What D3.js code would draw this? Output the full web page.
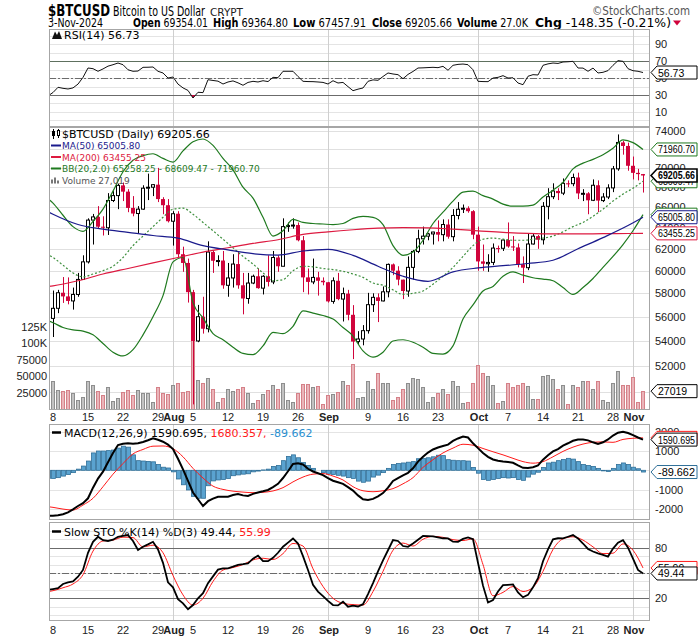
<!DOCTYPE html>
<html>
<head>
<meta charset="utf-8">
<script src="https://cdnjs.cloudflare.com/ajax/libs/d3/7.8.5/d3.min.js"></script>
<style>
  body { margin: 0; background: #fff; }
  svg { display: block; }
</style>
</head>
<body>
<script>
// $BTCUSD daily, Jul 7 - Nov 3 2024
// daily arrays start on Jul 7 (half hidden at the left edge) and end on Nov 3

const openP = [58240, 55860, 56710, 58050, 57730, 57340, 57900, 59220, 60800, 64730,
  65040, 64090, 63990, 66660, 67150, 68190, 67550, 65920, 65370, 65800,
  67900, 68000, 68260, 66800, 66190, 64620, 65350, 61500, 60700, 58100,
  54000, 56000, 55000, 61700, 60900, 60920, 58700, 59350, 60600, 58700,
  57550, 58900, 59500, 58450, 59500, 59000, 61200, 60400, 64100, 64200,
  64250, 62800, 59400, 59000, 59400, 59100, 58970, 57300, 59100, 57500,
  57970, 56160, 53950, 54160, 54840, 57020, 57650, 57340, 58130, 60570,
  60000, 59200, 58200, 60300, 61760, 62940, 63190, 63400, 63580, 63330,
  64300, 63140, 65180, 65790, 65890, 65600, 63330, 60840, 60630, 60750,
  62070, 62050, 62820, 62220, 62130, 60580, 60270, 62450, 63190, 62850,
  66080, 67040, 67620, 67400, 68400, 68360, 69000, 67370, 67380, 66680,
  68200, 66650, 67010, 67930, 69900, 72720, 72340, 70220, 69480, 69354.01];

const highP = [58400, 58240, 58300, 59430, 59400, 58500, 59800, 61400, 64900, 65330,
  66100, 65100, 67400, 67600, 68370, 68480, 67800, 67100, 66100, 68200,
  69400, 68300, 70000, 66990, 66800, 65600, 65600, 62200, 61100, 58300,
  57000, 57700, 62700, 61800, 61400, 61800, 60700, 61500, 61800, 59800,
  59800, 59650, 60200, 59600, 61400, 61800, 61400, 64900, 64500, 64900,
  64500, 63200, 60200, 61100, 59900, 59400, 59000, 59400, 59800, 58500,
  58300, 56980, 54800, 55300, 58040, 58000, 57990, 58600, 60650, 60650,
  60400, 59200, 61300, 61900, 63800, 64100, 63500, 63600, 64700, 64800,
  64800, 65800, 66500, 66260, 66080, 65700, 64100, 62400, 61500, 62500,
  62300, 62900, 64500, 63200, 62500, 61300, 63400, 63400, 63300, 66500,
  67900, 68400, 67900, 68900, 68700, 69400, 69500, 67800, 67500, 68800,
  68700, 67400, 68300, 70200, 73600, 72900, 72700, 71200, 69900, 69364.80];

const lowP = [55720, 54320, 56300, 57170, 57050, 56600, 57700, 59200, 60650, 62400,
  63900, 63250, 63300, 66500, 65800, 66600, 65500, 65100, 63450, 65750,
  66700, 67100, 66500, 65300, 64500, 62300, 61200, 59900, 57200, 49100,
  53900, 54600, 54700, 59800, 60400, 58400, 57700, 58500, 58400, 56200,
  57100, 58800, 58400, 57900, 58600, 58800, 59900, 60400, 63600, 63900,
  62700, 58100, 57900, 58800, 57800, 58700, 57200, 57100, 57400, 55600,
  55700, 52550, 53750, 53650, 54600, 56400, 55550, 57300, 57650, 59600,
  58700, 57500, 57700, 59200, 61600, 62400, 62800, 62400, 62700, 62700,
  62950, 62700, 64800, 65420, 65450, 62900, 60000, 59990, 59900, 60500,
  61640, 61800, 62100, 61800, 60300, 58900, 60050, 62400, 62000, 62400,
  64800, 66800, 66700, 67200, 68000, 68100, 66800, 66600, 65300, 66600,
  65500, 66500, 66800, 67500, 69700, 71400, 69700, 68800, 68700, 67457.91];

const closeP = [55860, 56710, 58050, 57730, 57340, 57900, 59220, 60800, 64730, 65040,
  64090, 63990, 66660, 67150, 68190, 67550, 65920, 65370, 65800, 67900,
  68000, 68260, 66800, 66190, 64620, 65350, 61500, 60700, 58100, 54000,
  56000, 55000, 61700, 60900, 60920, 58700, 59350, 60600, 58700, 57550,
  58900, 59500, 58450, 59500, 59000, 61200, 60400, 64100, 64200, 64250,
  62800, 59400, 59000, 59400, 59100, 58970, 57300, 59100, 57500, 57970,
  56160, 53950, 54160, 54840, 57020, 57650, 57340, 58130, 60570, 60000,
  59200, 58200, 60300, 61760, 62940, 63190, 63400, 63580, 63330, 64300,
  63140, 65180, 65790, 65890, 65600, 63330, 60840, 60630, 60750, 62070,
  62050, 62820, 62220, 62130, 60580, 60270, 62450, 63190, 62850, 66080,
  67040, 67620, 67400, 68400, 68360, 69000, 67370, 67380, 66680, 68200,
  66650, 67010, 67930, 69900, 72720, 72340, 70220, 69480, 69350, 69205.66];

const volumes = [17700, 42000, 29000, 27000, 29000, 25000, 13600, 18700, 42000, 37000,
  27000, 21000, 33000, 12000, 16000, 26000, 29000, 21000, 29000, 24000,
  24000, 10000, 33000, 25000, 23000, 36000, 40000, 26000, 28000, 120000,
  44000, 39000, 46500, 31000, 10000, 17000, 31000, 28000, 30000, 33000,
  25000, 8600, 13000, 22000, 29000, 37000, 30000, 40000, 14300, 11000,
  25000, 37500, 37500, 34000, 35000, 7500, 21000, 22000, 25500, 42000,
  37000, 68000, 16000, 17700, 42000, 31000, 54000, 39000, 39000, 13600,
  17700, 31000, 39000, 46500, 45000, 33000, 10000, 17700, 25000, 31000,
  22000, 42000, 35000, 8600, 10000, 40000, 67000, 54000, 50000, 37000,
  8600, 12000, 39000, 33000, 36000, 40000, 35000, 14600, 15700, 49500,
  51000, 45000, 31000, 36000, 7000, 36000, 33000, 43000, 42000, 30000,
  42000, 13600, 10600, 40000, 57000, 37000, 37000, 48000, 10600, 27019];

const rsiVals = [29, 33, 39.2, 38, 37.2, 38.5, 43, 51, 62.1, 61.3,
  58.2, 61, 64.3, 66, 68, 66, 60, 58.2, 58.5, 62.9,
  63, 63.3, 58.2, 56.2, 50.2, 51.4, 43, 38.5, 35.5, 26.5,
  33.3, 32.9, 48.2, 47.3, 46.5, 43.1, 45.5, 46.8, 44.5, 41.6,
  45, 46.3, 45.5, 47, 46, 51, 50.6, 58.2, 58.2, 58.2,
  52, 46.3, 46, 45.9, 45.5, 45, 43.1, 47, 44.3, 45,
  40, 35.2, 37, 38.4, 46.3, 48, 47.5, 52, 56.2, 55,
  54.2, 49.4, 54.5, 58, 62.1, 62.3, 62.6, 62.9, 62.5, 64.1,
  59.4, 65.3, 66.4, 66.8, 66, 60, 46.3, 46, 45.9, 50.2,
  51, 53, 50.2, 50.5, 44.3, 42.3, 52.3, 54.2, 53.8, 65.3,
  67, 68, 67.5, 69.2, 69.5, 70, 62.1, 62, 58.2, 62,
  56.2, 57, 59, 65.3, 70.8, 70, 61.3, 58.9, 58.2, 56.73];

const macdVals = [-2360, -2350, -2330, -2280, -2180, -2020, -1850, -1700, -1450, -900,
  -430, -70, 420, 900, 1310, 1380, 1400, 1370, 1400, 1470,
  1560, 1660, 1580, 1480, 1330, 1100, 600, 50, -550, -1150,
  -1500, -1850, -1600, -1470, -1370, -1370, -1370, -1280, -1230, -1300,
  -1330, -1220, -1150, -1090, -1020, -870, -700, -400, -50, 330,
  360, 300, 80, -60, -150, -250, -400, -540, -620, -700,
  -870, -1050, -1300, -1500, -1540, -1480, -1350, -1180, -900, -550,
  -400, -260, -130, 100, 450, 700, 920, 1080, 1180, 1260,
  1330, 1520, 1650, 1750, 1700, 1400, 1150, 900, 700, 560,
  500, 460, 430, 390, 250, 130, 120, 160, 250, 550,
  780, 980, 1100, 1280, 1400, 1530, 1600, 1590, 1550, 1450,
  1360, 1450, 1600, 1800, 1950, 2000, 1930, 1820, 1700, 1590.695];

const histVals = [-420, -420, -380, -300, -220, -120, 60, 220, 480, 900,
  1000, 1000, 1020, 1050, 1150, 1250, 1200, 800, 500, 480,
  460, 440, 300, 160, 120, -80, -450, -750, -1020, -1350,
  -1450, -1450, -800, -550, -500, -480, -420, -280, -240, -200,
  -180, -80, -40, 20, 60, 200, 250, 500, 720, 800,
  650, 400, 250, 100, 0, -120, -200, -220, -260, -300,
  -380, -420, -560, -620, -560, -350, -250, -120, 100, 300,
  350, 380, 420, 450, 600, 620, 650, 700, 780, 760,
  550, 520, 500, 500, 480, 150, -150, -480, -520, -480,
  -420, -380, -400, -380, -480, -520, -350, -200, -100, 150,
  380, 420, 500, 560, 620, 580, 450, 300, 250, 200,
  100, -30, -60, 100, 300, 380, 300, 160, 80, -89.662];

const pctK = [30, 31, 32, 37, 39, 40, 45.6, 53.6, 74, 87,
  93, 89, 88, 89.5, 93, 94, 95, 88, 77.3, 81.2,
  84, 87, 78, 62, 39, 33, 19, 14, 7, 12,
  20, 26, 38, 46, 54, 55.6, 55.6, 57.5, 59.7, 60.5,
  61.5, 67, 70.5, 64, 64, 68, 74, 81.2, 86, 91,
  85, 70, 53.6, 36, 28, 22.5, 17, 12, 11.6, 16,
  10, 11.2, 10.3, 13, 25, 38, 52, 65, 77, 89,
  88, 82, 81, 85, 89.5, 94, 93.8, 93.5, 92.3, 91.2,
  91, 87.1, 87, 90.5, 92.3, 90, 62, 35, 15, 18,
  28, 35.5, 36, 36.4, 27, 21.2, 24, 33, 44, 64,
  78, 90, 91.2, 91, 93, 95, 91, 85, 78.5, 75.5,
  73.4, 71.5, 69.5, 79, 86, 89, 80, 67, 53.6, 49.44];

// smoother lines, sampled every second day from Jul 6 to Nov 3
const bbUpper = [67200, 66400, 65200, 64100, 63650, 64600, 65800, 67600, 69600, 70800,
  71300, 71500, 71000, 70600, 71800, 72800, 73100, 72400, 71000, 69800,
  68000, 66900, 65000, 63200, 63700, 64800, 64500, 64400, 64350, 64300,
  64400, 64900, 65100, 65000, 64300, 62300, 61400, 61700, 62800, 64400,
  65500, 66600, 67500, 67600, 67150, 66800, 66300, 66100, 66100, 66200,
  67000, 67700, 68500, 69900, 70500, 70900, 71400, 72100, 73000, 72700, 71960.70];
const bbMiddle = [61700, 61200, 60500, 59800, 59450, 59700, 60000, 60400, 61200, 62300,
  63200, 64100, 65000, 65800, 65900, 65300, 64500, 63700, 62900, 62100,
  61300, 60600, 59800, 59100, 59200, 60000, 60400, 60350, 60200, 60100,
  59950, 59700, 59400, 58900, 58700, 58300, 57900, 58000, 58200, 58800,
  59500, 60300, 61300, 62300, 62900, 63000, 62900, 62800, 62800, 62900,
  63000, 63200, 63600, 64100, 64500, 65100, 65800, 66600, 67300, 67900, 68609.47];
const bbLower = [55800, 55500, 55100, 54900, 54800, 54500, 53800, 53100, 52800, 53300,
  54500, 56000, 57800, 60800, 61200, 57200, 55900, 54600, 54100, 53500,
  53000, 52900, 53600, 54700, 54600, 55200, 56500, 56300, 56100, 55800,
  55100, 54400, 53200, 52700, 53100, 54000, 54100, 53900, 53500, 53000,
  52950, 53600, 55800, 57000, 58200, 58600, 59500, 59900, 59600, 59370,
  59250, 59100, 58500, 57900, 58500, 59300, 60300, 61300, 62400, 63700, 65258.25];
const signalVals = [-1850, -1920, -2010, -2060, -1800, -1450, -850, -200, 350, 850,
  1080, 1250, 1260, 1120, 700, 100, -400, -820, -990, -1080,
  -1130, -1160, -1140, -1070, -900, -600, -350, -200, -170, -300,
  -500, -850, -1060, -1110, -1060, -950, -700, -380, 150, 550,
  900, 1150, 1350, 1300, 1130, 960, 800, 620, 450, 370,
  450, 700, 980, 1200, 1360, 1450, 1470, 1450, 1600, 1660, 1680.357];
const pctD = [27, 29, 32.5, 37, 48, 76, 88, 89, 92.5, 92,
  81, 83, 74, 47, 24, 12, 20, 40, 53.5, 56.5,
  60, 65.5, 67.5, 66, 73, 85, 82, 55, 34, 20,
  14, 12.5, 12, 28, 52, 77, 85.5, 82, 90, 93.5,
  92.3, 89.5, 88.5, 90.5, 60, 23, 27, 34, 28, 33,
  52, 78, 90.5, 93, 89, 81, 73, 73.5, 84.5, 77, 55.99];

// moving averages, sampled on these day offsets from Jul 8
const maDays = [-2, 0, 5, 10, 15, 20, 25, 30, 35, 40, 45, 50, 55, 60, 65,
  70, 75, 80, 85, 90, 95, 100, 105, 110, 115, 118];
const ma50 = [65800, 65300, 64300, 63850, 63550, 63250, 63000, 62300, 61900, 61550,
  61420, 61800, 61950, 61400, 60400, 59500, 59050, 59900, 60250, 60450,
  60650, 60950, 62000, 63050, 64200, 65005.80];
const ma200 = [58550, 58650, 59100, 59700, 60200, 60700, 61200, 61700, 62100, 62500,
  62850, 63350, 63600, 63800, 63950, 64000, 63980, 63850, 63700, 63550,
  63450, 63400, 63400, 63420, 63440, 63455.25];

const priceTicks = [52000, 54000, 56000, 58000, 60000, 62000, 64000, 66000, 68000, 70000, 72000, 74000];
const volumeTicks = [25000, 50000, 75000, 100000, 125000];
const volumeTickLabels = ["25000", "50000", "75000", "100K", "125K"];
const rsiTicks = [10, 30, 50, 70, 90];
const macdTicks = [-2000, -1000, 1000, 2000];
const stoTicks = [20, 80];

const NARROW = '"Liberation Sans Narrow", "Arial Narrow", "DejaVu Sans Condensed", sans-serif';
const SANS = '"Liberation Sans", Arial, sans-serif';
const VERD = '"DejaVu Sans", Verdana, sans-serif';

const W = 700, H = 639, left = 49, right = 650;
const rsiBox = {top: 29, bottom: 127};
const priceBox = {top: 127, bottom: 410};
const macdBox = {top: 424, bottom: 520};
const stoBox = {top: 522, bottom: 621};

const red = "#d0043c";
const green = "#1f7a1f";
const navy = "#1a1a8c";

let svg = null, defs = null;
let x, yPrice, yVol, yRsi, yMacd, ySto;
let day0, dates, halfDates, maDates, monthStarts, mondays;

setupDates();
setupScales();
appendSvg("body");
drawHeader();
drawRsiPanel();
drawPricePanel();
drawMacdPanel();
drawStoPanel();
drawDateAxis(priceBox.bottom + 11);
drawDateAxis(stoBox.bottom + 13);

function setupDates() {
  day0 = new Date(Date.UTC(2024, 6, 8));
  dates = d3.range(-1, 119).map(i => d3.utcDay.offset(day0, i));
  halfDates = d3.range(-2, 119, 2).map(i => d3.utcDay.offset(day0, i));
  maDates = maDays.map(i => d3.utcDay.offset(day0, i));
  monthStarts = d3.utcMonth.range(dates[0], d3.utcDay.offset(day0, 120));
  mondays = d3.utcMonday.range(day0, d3.utcDay.offset(day0, 119));
}

function setupScales() {
  x = d3.scaleUtc()
    .domain([day0, d3.utcDay.offset(day0, 118)])
    .range([53, 643]);
  yPrice = d3.scaleLog().domain([48690, 74425]).range([priceBox.bottom, priceBox.top]);
  yVol = d3.scaleLinear().domain([0, 125000]).range([409, 326.5]);
  yRsi = d3.scaleLinear().domain([0, 100]).range([120.35, 36.05]);
  yMacd = d3.scaleLinear().domain([-2000, 2000]).range([508.9, 431.7]);
  ySto = d3.scaleLinear().domain([0, 100]).range([615.15, 530.85]);
}

function appendSvg(domElement) {
  svg = d3.select(domElement).append("svg")
    .attr("width", W)
    .attr("height", H);
  svg.append("rect").attr("width", W).attr("height", H).attr("fill", "#fff");
  defs = svg.append("defs");
}

function zip(ds, vs) {
  return ds.map((d, i) => ({date: d, v: vs[i]}));
}

function px(d) {
  return Math.round(x(d));
}

function panel(box, id) {
  defs.append("clipPath").attr("id", id).append("rect")
    .attr("x", left).attr("y", box.top)
    .attr("width", right - left).attr("height", box.bottom - box.top);
  return svg.append("g").attr("clip-path", "url(#" + id + ")");
}

function frame(box) {
  svg.append("rect")
    .attr("x", left + 0.5).attr("y", box.top + 0.5)
    .attr("width", right - left - 1).attr("height", box.bottom - box.top - 1)
    .attr("fill", "none").attr("stroke", "#a6a6a6");
}

function hLines(g, ys, color, dash) {
  g.selectAll(null).data(ys).enter().append("line")
    .attr("x1", left).attr("x2", right)
    .attr("y1", d => Math.round(d) + 0.5).attr("y2", d => Math.round(d) + 0.5)
    .attr("stroke", color)
    .attr("stroke-dasharray", dash || null);
}

function monthLines(g, box) {
  g.selectAll(null).data(monthStarts).enter().append("line")
    .attr("x1", d => px(d) + 0.5).attr("x2", d => px(d) + 0.5)
    .attr("y1", box.top).attr("y2", box.bottom)
    .attr("stroke", "#cfcfcf");
}

function rightLabels(vals, scale, fmt) {
  svg.selectAll(null).data(vals).enter().append("text")
    .attr("x", 655).attr("y", d => scale(d) + 4)
    .attr("font-family", SANS).attr("font-size", 11).attr("fill", "#222")
    .text(fmt || (d => d));
}

function valueBox(y, label, color, strong) {
  const g = svg.append("g");
  g.append("path")
    .attr("d", "M651," + y + " L657," + (y - 6.5) + " H697 V" + (y + 6.5) + " H657 Z")
    .attr("fill", "#fff").attr("stroke", color).attr("stroke-width", strong ? 1.6 : 1);
  const t = g.append("text")
    .attr("x", 658).attr("y", y + 4)
    .attr("font-family", SANS).attr("font-size", 10.5)
    .attr("font-weight", strong ? "bold" : "normal")
    .attr("fill", "#000").text(label);
  if (label.length > 6) t.attr("textLength", 37).attr("lengthAdjust", "spacingAndGlyphs");
}

function legendText(x0, y, parts, size) {
  const t = svg.append("text").attr("x", x0).attr("y", y)
    .attr("font-family", VERD).attr("font-size", size);
  parts.forEach(p => t.append("tspan").attr("fill", p[1]).text(p[0]));
}

function dayLine(scale, curve) {
  return d3.line().x(d => x(d.date)).y(d => scale(d.v)).curve(curve || d3.curveLinear);
}

function headText(x0, y, parts, size, len, family, color) {
  const t = svg.append("text").attr("x", x0).attr("y", y)
    .attr("font-family", family || NARROW).attr("font-size", size)
    .attr("fill", color || "#000")
    .attr("textLength", len).attr("lengthAdjust", "spacingAndGlyphs");
  parts.forEach(p => t.append("tspan").attr("font-weight", p[1] ? "bold" : "normal").text(p[0]));
}

function drawHeader() {
  headText(48, 15.5, [["$BTCUSD", true]], 16.5, 62);
  headText(113, 15.5, [["Bitcoin to US Dollar", false]], 13.5, 92);
  headText(210, 15.5, [["CRYPT", false]], 10.5, 33, VERD, "#222");
  headText(592, 14.5, [["\u00A9StockCharts.com", false]], 12.5, 98, NARROW, "#555");

  headText(48, 26.5, [["3-Nov-2024", false]], 12.5, 55);
  headText(133, 26.5, [["Open", true], [" 69354.01", false]], 12.5, 75);
  headText(213, 26.5, [["High", true], [" 69364.80", false]], 12.5, 75);
  headText(293, 26.5, [["Low", true], [" 67457.91", false]], 12.5, 73);
  headText(372, 26.5, [["Close", true], [" 69205.66", false]], 12.5, 80);
  headText(457, 26.5, [["Volume", true], [" 27.0K", false]], 12.5, 71);
  headText(535, 26.5, [["Chg", true], [" -148.35 (-0.21%)", false]], 12.5, 136);
  svg.append("path").attr("d", "M673,20.5 L681,20.5 L677,25.5 Z").attr("fill", red);
}

function drawRsiPanel() {
  const g = panel(rsiBox, "clipRsi");
  hLines(g, d3.range(0, 101, 10).map(yRsi), "#e4e4e4");
  monthLines(g, rsiBox);
  hLines(g, [yRsi(70), yRsi(30)], "#6b6b6b");
  hLines(g, [yRsi(50)], "#6b6b6b", "7,2,2,2");

  const data = zip(dates, rsiVals);
  defs.append("clipPath").attr("id", "rsiLow").append("rect")
    .attr("x", left).attr("y", yRsi(30)).attr("width", right - left).attr("height", 40);
  defs.append("clipPath").attr("id", "rsiHigh").append("rect")
    .attr("x", left).attr("y", rsiBox.top).attr("width", right - left).attr("height", yRsi(70) - rsiBox.top);
  const area = d3.area().x(d => x(d.date)).y1(d => yRsi(d.v));
  g.append("path").datum(data).attr("d", area.y0(yRsi(30)))
    .attr("fill", red).attr("clip-path", "url(#rsiLow)");
  g.append("path").datum(data).attr("d", area.y0(yRsi(70)))
    .attr("fill", "#2e8b2e").attr("clip-path", "url(#rsiHigh)");

  g.append("path").datum(data).attr("d", dayLine(yRsi))
    .attr("fill", "none").attr("stroke", "#111").attr("stroke-width", 1);
  frame(rsiBox);

  svg.append("path").attr("d", "M52,39 L55,31.5 L57,35 L59,31 L62,39 Z").attr("fill", "#111");
  legendText(64, 39, [["RSI(14) 56.73", "#000"]], 11);
  rightLabels(rsiTicks, yRsi);
  valueBox(yRsi(56.73), "56.73", "#000");
}

function drawPricePanel() {
  const g = panel(priceBox, "clipPrice");
  hLines(g, [50000].concat(priceTicks).map(yPrice), "#e0e0e0");
  monthLines(g, priceBox);

  const bars = dates.map((d, i) => ({
    date: d, o: openP[i], h: highP[i], l: lowP[i], c: closeP[i], v: volumes[i],
    down: closeP[i] < (i > 0 ? closeP[i - 1] : openP[i])
  }));

  // volume underneath the candles
  g.selectAll(".vol").data(bars).enter().append("rect")
    .attr("x", d => px(d.date) - 1.5)
    .attr("y", d => Math.round(yVol(d.v)) + 0.5)
    .attr("width", 3)
    .attr("height", d => yVol(0) - Math.round(yVol(d.v)))
    .attr("fill", d => d.down ? "#eab5ba" : "#c2c2c2")
    .attr("stroke", d => d.down ? "#d58088" : "#8e8e8e");

  // candles
  g.selectAll(".wick").data(bars).enter().append("line")
    .attr("x1", d => px(d.date) + 0.5).attr("x2", d => px(d.date) + 0.5)
    .attr("y1", d => yPrice(d.h)).attr("y2", d => yPrice(d.l))
    .attr("stroke", d => d.c < d.o ? red : "#000");
  g.selectAll(".body").data(bars).enter().append("rect")
    .attr("x", d => d.c < d.o ? px(d.date) - 2 : px(d.date) - 1.5)
    .attr("y", d => yPrice(Math.max(d.o, d.c)))
    .attr("width", d => d.c < d.o ? 4 : 3)
    .attr("height", d => Math.max(1, yPrice(Math.min(d.o, d.c)) - yPrice(Math.max(d.o, d.c))))
    .attr("fill", d => d.c < d.o ? red : "#fff")
    .attr("stroke", d => d.c < d.o ? "none" : "#000");

  // overlays
  g.append("path").datum(zip(halfDates, bbUpper)).attr("d", dayLine(yPrice, d3.curveMonotoneX))
    .attr("fill", "none").attr("stroke", green).attr("stroke-width", 1.2);
  g.append("path").datum(zip(halfDates, bbLower)).attr("d", dayLine(yPrice, d3.curveMonotoneX))
    .attr("fill", "none").attr("stroke", green).attr("stroke-width", 1.2);
  g.append("path").datum(zip(halfDates, bbMiddle)).attr("d", dayLine(yPrice, d3.curveMonotoneX))
    .attr("fill", "none").attr("stroke", "#3d8f3d").attr("stroke-width", 1.2)
    .attr("stroke-dasharray", "2,2");
  g.append("path").datum(zip(maDates, ma200)).attr("d", dayLine(yPrice, d3.curveMonotoneX))
    .attr("fill", "none").attr("stroke", "#dd1a40").attr("stroke-width", 1.2);
  g.append("path").datum(zip(maDates, ma50)).attr("d", dayLine(yPrice, d3.curveMonotoneX))
    .attr("fill", "none").attr("stroke", navy).attr("stroke-width", 1.2);
  frame(priceBox);

  // legend
  svg.append("line").attr("x1", 53.5).attr("x2", 53.5).attr("y1", 129).attr("y2", 139).attr("stroke", "#000");
  svg.append("rect").attr("x", 52).attr("y", 131).attr("width", 3).attr("height", 5).attr("fill", "#000");
  svg.append("line").attr("x1", 58.5).attr("x2", 58.5).attr("y1", 129).attr("y2", 138).attr("stroke", "#000");
  svg.append("rect").attr("x", 57.5).attr("y", 130.5).attr("width", 2).attr("height", 5)
    .attr("fill", "#fff").attr("stroke", "#000");
  legendText(62, 138, [["$BTCUSD (Daily) 69205.66", "#000"]], 11);
  const rows = [
    [149, navy, "MA(50) 65005.80"],
    [160.5, "#dd1a40", "MA(200) 63455.25"],
    [172, green, "BB(20,2.0) 65258.25 - 68609.47 - 71960.70"]
  ];
  rows.forEach(r => {
    svg.append("line").attr("x1", 51).attr("x2", 61).attr("y1", r[0] - 3.5).attr("y2", r[0] - 3.5)
      .attr("stroke", r[1]).attr("stroke-width", 2);
    legendText(62, r[0], [[r[2], r[1]]], 9);
  });
  [[51, 4], [54, 6], [57, 3]].forEach(b => {
    svg.append("rect").attr("x", b[0]).attr("y", 183.5 - b[1]).attr("width", 2).attr("height", b[1]).attr("fill", "#777");
  });
  legendText(62, 184, [["Volume 27,019", "#555"]], 9);

  // axes
  rightLabels(priceTicks, yPrice);
  svg.selectAll(null).data(volumeTicks).enter().append("text")
    .attr("x", 47).attr("y", d => yVol(d) + 4).attr("text-anchor", "end")
    .attr("font-family", SANS).attr("font-size", 11).attr("fill", "#222")
    .text((d, i) => volumeTickLabels[i]);

  valueBox(yPrice(65258.25), "65258.25", green);
  valueBox(yPrice(68609.47), "68609.47", green);
  valueBox(yPrice(71960.70), "71960.70", green);
  valueBox(yPrice(63455.25), "63455.25", "#dd1a40");
  valueBox(yPrice(65005.80), "65005.80", navy);
  valueBox(yPrice(69205.66), "69205.66", "#000", true);
  valueBox(yVol(27019), "27019", "#000");
}

function drawMacdPanel() {
  const g = panel(macdBox, "clipMacd");
  hLines(g, [-2000, -1000, 0, 1000, 2000].map(yMacd), "#e4e4e4");
  monthLines(g, macdBox);

  const hist = zip(dates, histVals);
  g.selectAll(".hist").data(hist).enter().append("rect")
    .attr("x", d => px(d.date) - 1.5)
    .attr("y", d => d.v >= 0 ? yMacd(d.v) : yMacd(0))
    .attr("width", 4)
    .attr("height", d => Math.abs(yMacd(d.v) - yMacd(0)))
    .attr("fill", "#5aa3d0").attr("stroke", "#2f6f98").attr("stroke-width", 0.8);

  g.append("path").datum(zip(halfDates, signalVals)).attr("d", dayLine(yMacd, d3.curveMonotoneX))
    .attr("fill", "none").attr("stroke", "#ff1a1a").attr("stroke-width", 1);
  g.append("path").datum(zip(dates, macdVals)).attr("d", dayLine(yMacd))
    .attr("fill", "none").attr("stroke", "#000").attr("stroke-width", 2);
  frame(macdBox);

  svg.append("line").attr("x1", 52).attr("x2", 61).attr("y1", 432.5).attr("y2", 432.5)
    .attr("stroke", "#000").attr("stroke-width", 2.5);
  legendText(64, 436.5, [["MACD(12,26,9) 1590.695,", "#000"], [" 1680.357,", "#ff1a1a"], [" -89.662", "#2a8fd0"]], 11);
  rightLabels(macdTicks, yMacd);
  valueBox(yMacd(1680.357), "1680.357", "#ff1a1a");
  valueBox(yMacd(1590.695), "1590.695", "#000");
  valueBox(yMacd(-89.662), "-89.662", "#2f6f98");
}

function drawStoPanel() {
  const g = panel(stoBox, "clipSto");
  hLines(g, d3.range(0, 101, 10).map(ySto), "#e4e4e4");
  monthLines(g, stoBox);
  hLines(g, [ySto(80), ySto(20)], "#6b6b6b");
  hLines(g, [ySto(50)], "#6b6b6b", "7,2,2,2");

  g.append("path").datum(zip(halfDates, pctD)).attr("d", dayLine(ySto, d3.curveMonotoneX))
    .attr("fill", "none").attr("stroke", "#ff1a1a").attr("stroke-width", 1);
  g.append("path").datum(zip(dates, pctK)).attr("d", dayLine(ySto))
    .attr("fill", "none").attr("stroke", "#000").attr("stroke-width", 1.8);
  frame(stoBox);

  svg.append("line").attr("x1", 52).attr("x2", 61).attr("y1", 531.5).attr("y2", 531.5)
    .attr("stroke", "#000").attr("stroke-width", 2.5);
  legendText(64, 535.5, [["Slow STO %K(14) %D(3) 49.44,", "#000"], [" 55.99", "#ff1a1a"]], 11);
  rightLabels(stoTicks, ySto);
  valueBox(ySto(55.99), "55.99", "#ff1a1a");
  valueBox(ySto(49.44), "49.44", "#000");
}

function drawDateAxis(yBase) {
  const skip = d => monthStarts.some(m => Math.abs(m - d) <= 2 * 864e5);
  svg.selectAll(null).data(mondays.filter(d => !skip(d))).enter().append("text")
    .attr("x", d => x(d)).attr("y", yBase).attr("text-anchor", "middle")
    .attr("font-family", SANS).attr("font-size", 11).attr("fill", "#222")
    .text(d => d.getUTCDate());
  svg.selectAll(null).data(monthStarts.filter(d => x(d) < right)).enter().append("text")
    .attr("x", d => x(d) + 1).attr("y", yBase).attr("text-anchor", "middle")
    .attr("font-family", SANS).attr("font-size", 11).attr("font-weight", "bold").attr("fill", "#222")
    .text(d => d3.utcFormat("%b")(d));
}
</script>
</body>
</html>
